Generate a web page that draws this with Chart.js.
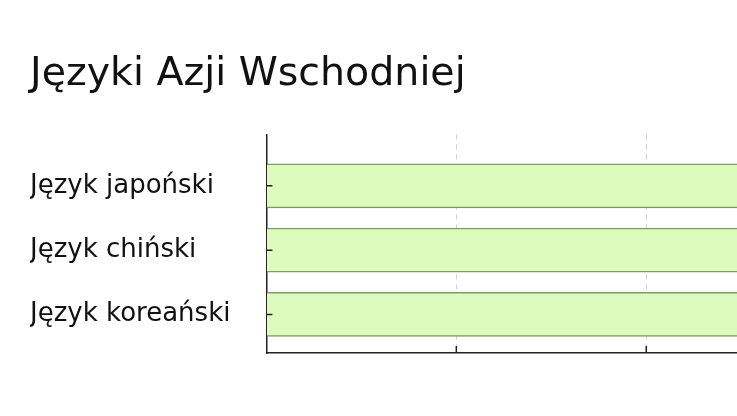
<!DOCTYPE html>
<html>
<head>
<meta charset="utf-8">
<script src="https://cdn.jsdelivr.net/npm/chart.js@4"></script>
<style>
	html, body { margin: 0; padding: 0; background: #fff; overflow: hidden; }
	#wrap { width: 737px; height: 416px; overflow: hidden; }
</style>
</head>
<body>
<div id="wrap"><canvas id="langChart" width="1000" height="416"></canvas></div>
<script>
const titleText = 'Języki Azji Wschodniej';
const languages = ['Język japoński', 'Język chiński', 'Język koreański'];
// bars run past the right edge of the picture, so these are only estimates
const values = [36, 36, 36];
const xStep = 10;

// ticks pointing into the plot, like the original
const innerTicks = {
	id: 'innerTicks',
	afterDatasetsDraw(chart) {
		const ctx = chart.ctx;
		const xs = chart.scales.x;
		const ys = chart.scales.y;
		ctx.save();
		ctx.strokeStyle = '#222';
		ctx.lineWidth = 1.5;
		ctx.beginPath();
		xs.ticks.forEach(t => {
			if (t.value === 0) return;
			const px = xs.getPixelForValue(t.value);
			ctx.moveTo(px, ys.bottom);
			ctx.lineTo(px, ys.bottom - 7);
		});
		ys.ticks.forEach(t => {
			const py = ys.getPixelForValue(t.value);
			ctx.moveTo(xs.left, py);
			ctx.lineTo(xs.left + 6, py);
		});
		ctx.stroke();
		ctx.restore();
	}
};

new Chart(document.getElementById('langChart').getContext('2d'), {
	type: 'bar',
	data: {
		datasets: [{
			data: values.map((v, i) => ({ x: v, y: i })),
			backgroundColor: '#ddfbbd',
			borderColor: '#7f9c62',
			borderWidth: 1.5,
			borderSkipped: 'start',
			barThickness: 44,
		}]
	},
	options: {
		indexAxis: 'y',
		responsive: false,
		animation: false,
		layout: { padding: { left: 30, right: 10, top: 0, bottom: 63 } },
		plugins: {
			legend: { display: false },
			tooltip: { enabled: false },
			title: {
				display: true,
				text: titleText,
				align: 'start',
				color: '#111',
				font: { family: 'DejaVu Sans', size: 39.5, weight: 'normal' },
				padding: { top: 51, bottom: 36 }
			}
		},
		scales: {
			x: {
				type: 'linear',
				min: 0,
				max: 38.1,
				ticks: { display: false, stepSize: xStep },
				grid: { color: '#d0d0d0', drawTicks: false },
				border: { display: true, color: '#222', width: 1.5, dash: [5, 5] }
			},
			y: {
				type: 'linear',
				reverse: true,
				offset: false,
				min: -0.8,
				max: 2.6,
				afterBuildTicks(scale) {
					scale.ticks = languages.map((l, i) => ({ value: i }));
				},
				ticks: {
					crossAlign: 'far',
					padding: 18,
					color: '#111',
					font: { family: 'DejaVu Sans', size: 26 },
					callback: v => languages[v]
				},
				grid: { display: false, drawTicks: false },
				border: { display: true, color: '#222', width: 1.5 }
			}
		}
	},
	plugins: [innerTicks]
});
</script>
</body>
</html>
